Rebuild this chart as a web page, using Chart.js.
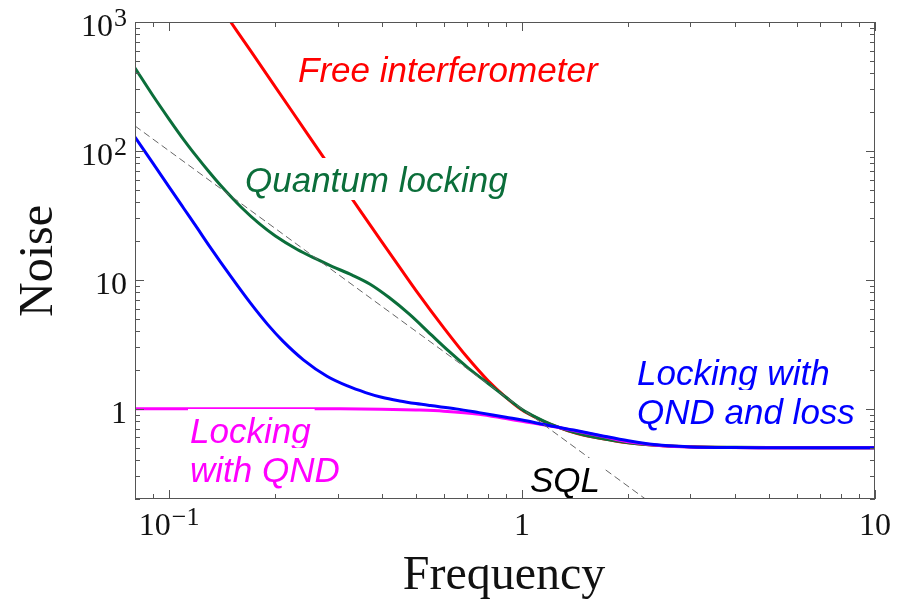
<!DOCTYPE html>
<html>
<head>
<meta charset="utf-8">
<script src="https://cdn.jsdelivr.net/npm/chart.js@4.4.0/dist/chart.umd.min.js"></script>
<style>
  html, body { margin: 0; padding: 0; background: #fff; }
</style>
</head>
<body>
<canvas id="noiseChart" width="908" height="600"></canvas>
<script>
// values (frequency, noise)
const freeFreq  = [0.1494, 0.17, 0.2, 0.25, 0.3, 0.35, 0.4, 0.45, 0.5, 0.6, 0.7, 0.8, 0.9, 1.0, 1.1, 1.2, 1.35, 1.5, 1.75, 2.0, 2.5, 3, 5, 10];
const freeNoise = [1000, 599, 313, 128, 62, 33.5, 19.8, 12.5, 8.3, 4.25, 2.5, 1.66, 1.23, 0.98, 0.85, 0.76, 0.677, 0.625, 0.578, 0.545, 0.518, 0.508, 0.5, 0.5];

const qlFreq  = [0.08, 0.09, 0.1, 0.11, 0.12, 0.13, 0.14, 0.16, 0.18, 0.2, 0.23, 0.26, 0.29, 0.33, 0.37, 0.42, 0.48, 0.55, 0.62, 0.7, 0.8, 0.9, 1.0, 1.1, 1.2, 1.35, 1.5, 1.654, 2.0, 2.29, 2.6, 3, 4, 5, 10];
const qlNoise = [440, 268, 176, 122, 89.5, 68.3, 53.9, 36.6, 27.3, 21.9, 17.3, 14.6, 12.7, 10.9, 9.3, 7.3, 5.4, 3.8, 2.8, 2.1, 1.58, 1.23, 0.99, 0.855, 0.765, 0.68, 0.628, 0.594, 0.546, 0.527, 0.516, 0.509, 0.503, 0.501, 0.5];

const qndFreq  = [0.08, 0.2, 0.3, 0.4, 0.5, 0.6, 0.755, 0.9, 1.0, 1.17, 1.4, 1.7, 2.0, 2.5, 3, 4, 5, 10];
const qndNoise = [1.0, 1.0, 1.0, 0.995, 0.98, 0.96, 0.91, 0.84, 0.8, 0.745, 0.68, 0.61, 0.555, 0.518, 0.506, 0.501, 0.5, 0.5];

const lossFreq  = [0.08, 0.09, 0.1, 0.11, 0.12, 0.13, 0.15, 0.17, 0.19, 0.21, 0.24, 0.28, 0.32, 0.36, 0.4, 0.45, 0.5, 0.55, 0.65, 0.755, 0.9, 1.0, 1.17, 1.4, 1.654, 2.0, 2.29, 2.6, 3, 4, 5, 10];
const lossNoise = [128, 80, 52.4, 35.8, 25.3, 18.3, 10.5, 6.6, 4.52, 3.35, 2.4, 1.79, 1.505, 1.338, 1.23, 1.152, 1.099, 1.06, 1.0, 0.935, 0.86, 0.82, 0.75, 0.685, 0.625, 0.565, 0.535, 0.517, 0.507, 0.501, 0.5, 0.5];

const sqlFreq  = [0.08, 2.236];
const sqlNoise = [156.25, 0.2];

const xMajorTicks = [0.1, 1, 10];
const xMinorTicks = [0.08, 0.09, 0.2, 0.3, 0.4, 0.5, 0.6, 0.7, 0.8, 0.9, 2, 3, 4, 5, 6, 7, 8, 9];
const yMajorTicks = [1, 10, 100, 1000];
const yMinorTicks = [0.2, 0.3, 0.4, 0.5, 0.6, 0.7, 0.8, 0.9, 2, 3, 4, 5, 6, 7, 8, 9,
                     20, 30, 40, 50, 60, 70, 80, 90, 200, 300, 400, 500, 600, 700, 800, 900];
// [base, exponent]
const xTickLabels = [["10", "\u22121"], ["1", ""], ["10", ""]];
const yTickLabels = [["1", ""], ["10", ""], ["10", "2"], ["10", "3"]];

const SERIF = '"Liberation Serif", "Times New Roman", serif';
const SANS = '"Liberation Sans", Arial, sans-serif';

function pts(xs, ys) {
  return xs.map((x, i) => ({ x, y: ys[i] }));
}

function drawPow(ctx, base, exp, x, y, align) {
  ctx.font = `32px ${SERIF}`;
  const wb = ctx.measureText(base).width;
  ctx.font = `26px ${SERIF}`;
  const we = exp ? ctx.measureText(exp).width + 1 : 0;
  const total = wb + we;
  let left = x;
  if (align === "right") left = x - total;
  if (align === "center") left = x - total / 2;
  ctx.textAlign = "left";
  ctx.textBaseline = "alphabetic";
  ctx.font = `32px ${SERIF}`;
  ctx.fillText(base, left, y);
  if (exp) {
    ctx.font = `26px ${SERIF}`;
    ctx.fillText(exp, left + wb + 1, y - 10);
  }
}

const framePlugin = {
  id: "frame",
  afterDraw(chart) {
    const { ctx, chartArea: a, scales } = chart;
    const xs = scales.x, ys = scales.y;
    ctx.save();
    ctx.strokeStyle = "#555";
    ctx.lineWidth = 1;
    ctx.strokeRect(a.left + 0.5, a.top + 0.5, a.right - a.left - 1, a.bottom - a.top - 1);

    ctx.beginPath();
    const tick = (vals, len) => {
      vals.forEach(v => {
        const px = Math.round(xs.getPixelForValue(v)) + 0.5;
        ctx.moveTo(px, a.bottom); ctx.lineTo(px, a.bottom - len);
        ctx.moveTo(px, a.top); ctx.lineTo(px, a.top + len);
      });
    };
    const ytick = (vals, len) => {
      vals.forEach(v => {
        const py = Math.round(ys.getPixelForValue(v)) + 0.5;
        ctx.moveTo(a.left, py); ctx.lineTo(a.left + len, py);
        ctx.moveTo(a.right, py); ctx.lineTo(a.right - len, py);
      });
    };
    tick(xMajorTicks, 9);
    tick(xMinorTicks, 5);
    ytick(yMajorTicks, 9);
    ytick(yMinorTicks, 5);
    ctx.stroke();

    ctx.fillStyle = "#111";
    xMajorTicks.forEach((v, i) => {
      drawPow(ctx, xTickLabels[i][0], xTickLabels[i][1], xs.getPixelForValue(v), a.bottom + 36, "center");
    });
    yMajorTicks.forEach((v, i) => {
      drawPow(ctx, yTickLabels[i][0], yTickLabels[i][1], a.left - 8, ys.getPixelForValue(v) + 14, "right");
    });

    // axis titles
    ctx.font = `48px ${SERIF}`;
    ctx.textAlign = "center";
    ctx.textBaseline = "alphabetic";
    ctx.fillText("Frequency", (a.left + a.right) / 2 - 1, 589);
    ctx.save();
    ctx.translate(52, 261);
    ctx.rotate(-Math.PI / 2);
    ctx.fillText("Noise", 0, 0);
    ctx.restore();
    ctx.restore();
  }
};

const curveLabels = [
  { lines: ["Free interferometer"], x: 298, y: 82, color: "#ff0000" },
  { lines: ["Quantum locking"], x: 245, y: 192, color: "#0b6e3a" },
  { lines: ["Locking with", "QND and loss"], x: 637, y: 385, color: "#0000ff" },
  { lines: ["Locking", "with QND"], x: 190, y: 443, color: "#ff00ff" },
  { lines: ["SQL"], x: 530, y: 492, color: "#000000" }
];

const labelPlugin = {
  id: "curveLabels",
  afterDatasetsDraw(chart) {
    const ctx = chart.ctx;
    ctx.save();
    ctx.font = `italic 35px ${SANS}`;
    ctx.textAlign = "left";
    ctx.textBaseline = "alphabetic";
    curveLabels.forEach(l => {
      l.lines.forEach((t, i) => {
        const y = l.y + i * 39;
        const w = ctx.measureText(t).width;
        ctx.fillStyle = "#fff";
        ctx.fillRect(l.x - 2, y - 34, w + 6, 42);
        ctx.fillStyle = l.color;
        ctx.fillText(t, l.x, y);
      });
    });
    ctx.restore();
  }
};

const lineStyle = { borderWidth: 3, pointRadius: 0, cubicInterpolationMode: "monotone", fill: false, clip: 0 };

// lower "order" is drawn on top
new Chart(document.getElementById("noiseChart"), {
  type: "line",
  data: {
    datasets: [
      { label: "Free interferometer", data: pts(freeFreq, freeNoise), borderColor: "#ff0000", order: 5, ...lineStyle },
      { label: "Quantum locking", data: pts(qlFreq, qlNoise), borderColor: "#0b6e3a", order: 4, ...lineStyle },
      { label: "Locking with QND", data: pts(qndFreq, qndNoise), borderColor: "#ff00ff", order: 3, ...lineStyle },
      { label: "Locking with QND and loss", data: pts(lossFreq, lossNoise), borderColor: "#0000ff", order: 2, ...lineStyle },
      { label: "SQL", data: pts(sqlFreq, sqlNoise), borderColor: "#666", borderWidth: 1, borderDash: [7, 4], pointRadius: 0, fill: false, clip: 0, order: 1 }
    ]
  },
  options: {
    responsive: false,
    animation: false,
    events: [],
    layout: { padding: { left: 0, top: 22, right: 33, bottom: 0 } },
    scales: {
      x: {
        type: "logarithmic", min: 0.08, max: 10,
        grid: { display: false }, border: { display: false }, ticks: { display: false },
        afterFit: s => { s.height = 101; }
      },
      y: {
        type: "logarithmic", min: 0.2, max: 1000,
        grid: { display: false }, border: { display: false }, ticks: { display: false },
        afterFit: s => { s.width = 135; }
      }
    },
    plugins: { legend: { display: false }, tooltip: { enabled: false } }
  },
  plugins: [labelPlugin, framePlugin]
});
</script>
</body>
</html>
